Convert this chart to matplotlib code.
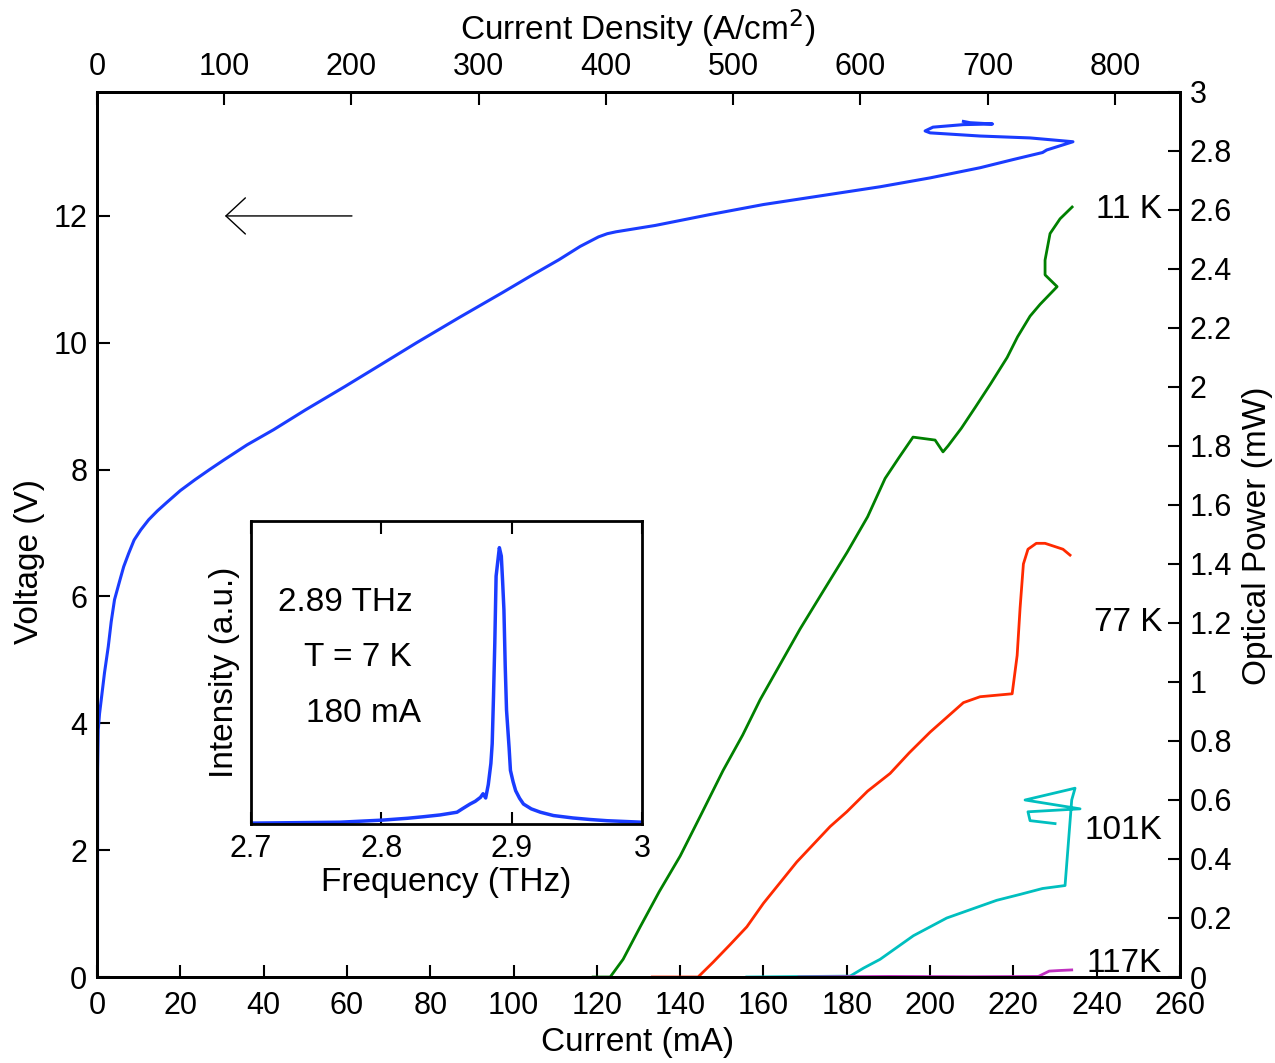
import matplotlib
matplotlib.use("Agg")
import matplotlib.pyplot as plt
import numpy as np

plt.rcParams['font.family'] = ['Liberation Sans', 'DejaVu Sans']

# current (mA) -> current density (A/cm^2)
j_per_ma = 3.274

# voltage vs current (left axis)
iv_current = [0, 0.1, 0.15, 0.3, 0.6, 1.1, 1.8, 2.7, 3.4, 4.2, 5.5, 6.4, 7.6, 8.9, 10.5, 12.4,
              14.5, 16.7, 20, 23.5, 27, 30.4, 36, 42.4, 50, 59.5, 68, 76.7, 87, 97.3, 104,
              110.9, 116, 120.4, 122.5, 124.6, 134, 147, 160, 175, 188, 200, 212, 220, 227,
              228, 234.3, 224, 212, 200, 198.8, 200.7, 208, 215, 209.6, 208]
iv_voltage = [0, 0.15, 3.26, 3.9, 4.15, 4.42, 4.8, 5.21, 5.6, 5.95, 6.26, 6.47, 6.68, 6.89,
              7.05, 7.21, 7.35, 7.48, 7.67, 7.84, 8.0, 8.15, 8.39, 8.63, 8.94, 9.31, 9.65,
              10.0, 10.4, 10.79, 11.05, 11.31, 11.52, 11.67, 11.72, 11.75, 11.85, 12.02,
              12.18, 12.33, 12.46, 12.6, 12.76, 12.89, 13.0, 13.04, 13.17, 13.23, 13.26,
              13.31, 13.34, 13.4, 13.44, 13.45, 13.47, 13.49]

# optical power vs current (right axis)
p11_current = [119.1, 123.2, 126.3, 130.4, 135, 140, 145, 150.3, 155, 159.2, 164, 168.8,
               174, 180.1, 185, 189.2, 192.5, 195.9, 201.2, 203.1, 204.3, 207.5, 210.8,
               214.5, 218.5, 221, 224, 226.4, 230.5, 227.6, 227.6, 228.8, 231.2, 234.1]
p11_power = [0, 0, 0.06, 0.17, 0.29, 0.41, 0.55, 0.70, 0.82, 0.94, 1.06, 1.18,
             1.30, 1.44, 1.56, 1.69, 1.76, 1.83, 1.82, 1.78, 1.80, 1.86, 1.93,
             2.01, 2.10, 2.17, 2.24, 2.28, 2.34, 2.38, 2.43, 2.52, 2.57, 2.61]

p77_current = [133.3, 144.3, 147.9, 152, 156, 160, 164, 168, 172, 176, 180, 185, 190.4, 195,
               200, 204, 208, 212, 219.7, 220.9, 221.6, 222.4, 223.5, 225.5, 227.6, 231.9, 233.6]
p77_power = [0, 0, 0.05, 0.11, 0.17, 0.25, 0.32, 0.39, 0.45, 0.51, 0.56, 0.63, 0.69, 0.76,
             0.83, 0.88, 0.93, 0.95, 0.96, 1.09, 1.25, 1.40, 1.45, 1.47, 1.47, 1.45, 1.43]

p101_current = [156, 180.8, 184, 188, 192, 196, 200, 204, 208, 212, 216, 221.6, 227, 232.4,
                234, 234.8, 222.8, 236, 223.5, 224, 230]
p101_power = [0, 0.003, 0.03, 0.06, 0.10, 0.14, 0.17, 0.20, 0.22, 0.24, 0.26, 0.28, 0.30,
              0.31, 0.60, 0.64, 0.60, 0.57, 0.56, 0.53, 0.52]

p117_current = [168.5, 190, 210, 226, 228.6, 231, 234]
p117_power = [0, 0.002, 0.001, 0.002, 0.02, 0.022, 0.024]

temp_labels = ['11 K', '77 K', '101K', '117K']
temp_label_power = [2.603, 1.203, 0.498, 0.047]

# inset spectrum
freq = [2.7, 2.768, 2.801, 2.82, 2.832, 2.845, 2.858, 2.862, 2.868, 2.872, 2.876, 2.878,
        2.880, 2.882, 2.884, 2.885, 2.886, 2.887, 2.888, 2.8905, 2.892, 2.893, 2.894, 2.895,
        2.896, 2.898, 2.899, 2.901, 2.903, 2.906, 2.909, 2.915, 2.922, 2.932, 2.947, 2.96,
        2.973, 3.0]
intensity = [0.003, 0.006, 0.013, 0.019, 0.024, 0.03, 0.039, 0.05, 0.066, 0.075, 0.088,
             0.10, 0.086, 0.13, 0.2, 0.265, 0.42, 0.597, 0.818, 0.912, 0.884, 0.8, 0.707,
             0.52, 0.376, 0.25, 0.177, 0.14, 0.11, 0.085, 0.066, 0.05, 0.039, 0.028, 0.02,
             0.015, 0.011, 0.006]

fs_tick = 22
fs_label = 24

fig = plt.figure(figsize=(12.75, 10.63), dpi=100)
ax = fig.add_axes([0.0761, 0.0809, 0.8494, 0.8326])

ax.plot(iv_current, iv_voltage, color='#1a3cff', lw=2.2)
ax.set_xlim(0, 260)
ax.set_ylim(0, 13.955)
ax.set_xticks(np.arange(0, 261, 20))
ax.set_yticks(np.arange(0, 13, 2))
ax.set_xlabel('Current (mA)', fontsize=fs_label)
ax.set_ylabel('Voltage (V)', fontsize=fs_label)
ax.xaxis.set_label_coords(0.4995, -0.056)
ax.yaxis.set_label_coords(-0.048, 0.469)
ax.annotate('', xy=(30.7, 12), xytext=(61.2, 12),
            arrowprops=dict(arrowstyle='->, head_length=0.7, head_width=0.65',
                            lw=1, color='black', mutation_scale=20, shrinkA=0, shrinkB=0))

# right axis: optical power
ax2 = ax.twinx()
ax2.plot(p11_current, p11_power, color='#008000', lw=2)
ax2.plot(p77_current, p77_power, color='#ff2a00', lw=2)
ax2.plot(p101_current, p101_power, color='#00bfbf', lw=2)
ax2.plot(p117_current, p117_power, color='#c030c0', lw=2)
ax2.set_ylim(0, 3)
ax2.set_yticks(np.arange(0, 3.01, 0.2))
ax2.set_yticklabels(['0', '0.2', '0.4', '0.6', '0.8', '1', '1.2', '1.4', '1.6', '1.8',
                     '2', '2.2', '2.4', '2.6', '2.8', '3'])
ax2.set_ylabel('Optical Power (mW)', fontsize=fs_label)
ax2.yaxis.set_label_coords(1.057, 0.499)
for lab, p in zip(temp_labels, temp_label_power):
    ax2.text(255.7, p, lab, fontsize=fs_label, ha='right', va='center')

# top axis: current density
ax3 = ax.twiny()
ax3.set_xlim(0, 260 * j_per_ma)
ax3.set_xticks(np.arange(0, 801, 100))
ax3.set_xlabel('Current Density (A/cm$^2$)', fontsize=fs_label)
ax3.xaxis.set_label_coords(0.4995, 1.059)

for a in (ax, ax2, ax3):
    a.tick_params(direction='in', length=9, width=1.5, labelsize=fs_tick, pad=7)
    for s in a.spines.values():
        s.set_linewidth(2)
ax.tick_params(axis='x', pad=10)

# inset
axi = fig.add_axes([0.1969, 0.2248, 0.3067, 0.2851])
axi.plot(freq, intensity, color='#1a3cff', lw=2.5)
axi.set_xlim(2.7, 3.0)
axi.set_ylim(0, 1)
axi.set_xticks([2.7, 2.8, 2.9, 3.0])
axi.set_xticklabels(['2.7', '2.8', '2.9', '3'])
axi.set_yticks([])
axi.set_xlabel('Frequency (THz)', fontsize=fs_label, labelpad=2)
axi.set_ylabel('Intensity (a.u.)', fontsize=fs_label, labelpad=8)
axi.tick_params(direction='in', length=9, width=1.5, labelsize=fs_tick, pad=7, top=True)
for s in axi.spines.values():
    s.set_linewidth(2)
axi.text(0.07, 0.73, '2.89 THz', transform=axi.transAxes, fontsize=fs_label, va='center')
axi.text(0.135, 0.55, 'T = 7 K', transform=axi.transAxes, fontsize=fs_label, va='center')
axi.text(0.14, 0.365, '180 mA', transform=axi.transAxes, fontsize=fs_label, va='center')

fig.savefig('out.png', dpi=100)
